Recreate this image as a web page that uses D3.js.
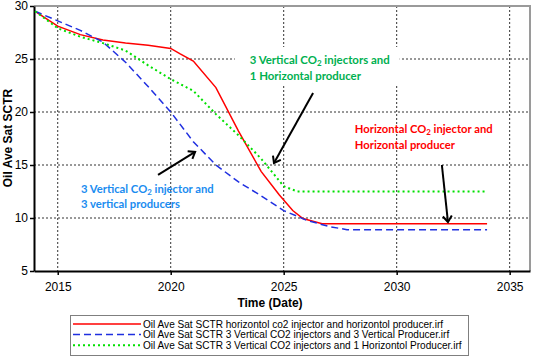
<!DOCTYPE html>
<html>
<head>
<meta charset="utf-8">
<script src="https://cdn.jsdelivr.net/npm/d3@7"></script>
<style>
  body { margin: 0; background: #fff; }
  svg { display: block; font-family: "Liberation Sans", Arial, sans-serif; }
</style>
</head>
<body>
<div id="chart"></div>
<script>
// horizontal injector + horizontal producer (red, solid)
const horizYears = [2014, 2015, 2016, 2017, 2018, 2019, 2020, 2020.4, 2021, 2022, 2023, 2024, 2024.8, 2025.4, 2025.85, 2026.7, 2034];
const horizSat   = [29.5, 28.1, 27.3, 26.8, 26.5, 26.3, 26.0, 25.5, 24.8, 22.3, 18.2, 14.4, 12.2, 10.7, 9.95, 9.45, 9.45];

// 3 vertical injectors + 3 vertical producers (blue, dashed)
const vertYears = [2014, 2015, 2016, 2017, 2018, 2019, 2020, 2021, 2022, 2023, 2024, 2025, 2026, 2027, 2027.8, 2034];
const vertSat   = [29.5, 28.6, 27.7, 26.6, 24.7, 22.4, 20.0, 17.2, 15.0, 13.4, 12.1, 10.7, 9.8, 9.2, 8.9, 8.9];

// 3 vertical injectors + 1 horizontal producer (green, dotted)
const mixYears = [2014, 2015, 2016, 2017, 2018, 2019, 2020, 2021, 2022, 2023, 2024, 2024.5, 2025, 2025.6, 2034];
const mixSat   = [29.5, 27.9, 27.1, 26.5, 25.8, 24.4, 23.1, 22.0, 19.8, 17.8, 15.6, 14.3, 13.0, 12.5, 12.5];

const xTicks = [2015, 2020, 2025, 2030, 2035];
const yTicks = [5, 10, 15, 20, 25, 30];

const legendLabels = [
  "Oil Ave Sat SCTR horizontol co2 injector and horizontol producer.irf",
  "Oil Ave Sat SCTR 3 Vertical CO2 injectors and 3 Vertical Producer.irf",
  "Oil Ave Sat SCTR 3 Vertical CO2 injectors and 1 Horizontol Producer.irf"
];

const width = 533, height = 357,
  margin = ({ top: 6, right: 3, bottom: 86, left: 34 });

const svg = d3.select("#chart").append("svg")
  .attr("width", width).attr("height", height);

const x = d3.scaleLinear()
  .domain([2013.95, 2035.9])
  .range([margin.left, width - margin.right]);

const y = d3.scaleLinear()
  .domain([5, 30])
  .range([height - margin.bottom, margin.top]);

/* dotted grid */
svg.append("g").selectAll("line")
  .data(xTicks).join("line")
  .attr("x1", d => x(d)).attr("x2", d => x(d))
  .attr("y1", y(30)).attr("y2", y(5))
  .attr("stroke", "#333").attr("stroke-dasharray", "2,2");

svg.append("g").selectAll("line")
  .data(yTicks.filter(d => d > 5 && d < 30)).join("line")
  .attr("x1", x.range()[0]).attr("x2", x.range()[1])
  .attr("y1", d => y(d)).attr("y2", d => y(d))
  .attr("stroke", "#333").attr("stroke-dasharray", "2,2");

/* gray frame top and right */
svg.append("path")
  .attr("d", `M${x.range()[0]},${y(30)}H${x.range()[1]}V${y(5)}`)
  .attr("fill", "none").attr("stroke", "#9a9a9a").attr("stroke-width", 2);

/* axes */
const yAxis = svg.append("g")
  .attr("transform", `translate(${margin.left},0)`)
  .call(d3.axisLeft(y).tickValues(yTicks).tickSize(4).tickSizeOuter(0).tickPadding(2));

const xAxis = svg.append("g")
  .attr("transform", `translate(0,${height - margin.bottom})`)
  .call(d3.axisBottom(x).tickValues(xTicks).tickFormat(d3.format("d"))
    .tickSize(4).tickSizeOuter(0).tickPadding(7));

for (const ax of [xAxis, yAxis]) {
  ax.select(".domain").attr("stroke", "#000").attr("stroke-width", 2);
  ax.selectAll(".tick line").attr("stroke", "#000").attr("stroke-width", 1.5);
  ax.selectAll("text").style("font-size", "12px").attr("fill", "#000")
    .style("font-family", "'Liberation Sans', Arial, sans-serif");
}

/* axis titles */
svg.append("text")
  .attr("transform", "rotate(-90)")
  .attr("x", -138).attr("y", 12)
  .attr("text-anchor", "middle")
  .style("font-size", "12px").style("font-weight", "bold")
  .text("Oil Ave Sat SCTR");

svg.append("text")
  .attr("x", 270).attr("y", 307)
  .attr("text-anchor", "middle")
  .style("font-size", "12px").style("font-weight", "bold")
  .text("Time (Date)");

/* series */
const series = [
  { years: horizYears, vals: horizSat, color: "#ff0000", dash: null, w: 1.5 },
  { years: vertYears, vals: vertSat, color: "#1f2fe0", dash: "7,4", w: 1.5 },
  { years: mixYears, vals: mixSat, color: "#00e000", dash: "2,3", w: 2 }
];

const line = d3.line().x(d => x(d[0])).y(d => y(d[1]));

/* annotations (data coordinates) */
const annotations = [
  { lines: [["3 Vertical CO", "2", " injectors and"], ["1 Horizontal producer"]],
    color: "#00b050", at: [2023.5, 24.53, 23.02], width: 140, bg: true },
  { lines: [["Horizontal CO", "2", " injector and"], ["Horizontal producer"]],
    color: "#ff0000", at: [2028.15, 18.0, 16.48], width: 138 },
  { lines: [["3 Vertical CO", "2", " injector and"], ["3 vertical producers"]],
    color: "#1a8cf0", at: [2016.03, 12.39, 10.92], width: 133 }
];
const arrows = [
  [2026.3, 21.79, 2024.57, 15.19],
  [2019.44, 14.06, 2021.08, 16.23],
  [2032.0, 15.0, 2032.27, 9.62]
];

const annoG = svg.append("g");
for (const a of annotations) {
  const g = annoG.append("g");
  const texts = a.lines.map((parts, i) => {
    const t = g.append("text")
      .attr("x", x(a.at[0])).attr("y", y(a.at[1 + i]))
      .attr("fill", a.color)
      .style("font-family", "Lato, 'Open Sans', sans-serif")
      .style("font-weight", 700).style("font-size", "13px");
    parts.forEach((p, j) => {
      if (j === 1) t.append("tspan").attr("dy", 2).style("font-size", "0.7em").text(p);
      else if (j === 2) t.append("tspan").attr("dy", -2).text(p);
      else t.append("tspan").text(p);
    });
    return t;
  });
  const w = texts[0].node().getComputedTextLength();
  const fs = 13 * a.width / w;
  texts.forEach(t => t.style("font-size", fs + "px"));
  if (a.bg) {
    const b = g.node().getBBox();
    g.insert("rect", "text")
      .attr("x", b.x - 15).attr("y", b.y - 6)
      .attr("width", b.width + 25).attr("height", b.height + 10)
      .attr("fill", "#fff");
  }
}

svg.append("defs").append("marker")
  .attr("id", "head").attr("viewBox", "-8 -6 10 12")
  .attr("markerWidth", 10).attr("markerHeight", 12)
  .attr("markerUnits", "userSpaceOnUse")
  .attr("orient", "auto")
  .append("path").attr("d", "M-6,-4.5L0,0L-6,4.5")
  .attr("fill", "none").attr("stroke", "#000").attr("stroke-width", 2);

svg.append("g").selectAll("path")
  .data(series).join("path")
  .attr("d", s => line(s.years.map((yr, i) => [yr, s.vals[i]])))
  .attr("fill", "none")
  .attr("stroke", s => s.color)
  .attr("stroke-width", s => s.w)
  .attr("stroke-dasharray", s => s.dash);

svg.append("g").selectAll("line")
  .data(arrows).join("line")
  .attr("x1", d => x(d[0])).attr("y1", d => y(d[1]))
  .attr("x2", d => x(d[2])).attr("y2", d => y(d[3]))
  .attr("stroke", "#000").attr("stroke-width", 2)
  .attr("marker-end", "url(#head)");

/* legend */
const legend = svg.append("g");
legend.append("rect")
  .attr("x", 70.5).attr("y", 315.5).attr("width", 398).attr("height", 40)
  .attr("fill", "#fff").attr("stroke", "#7f7f7f");

const rows = legend.selectAll(".row")
  .data(series).join("g").attr("class", "row")
  .attr("transform", (d, i) => `translate(0,${324 + i * 10.6})`);

rows.append("line")
  .attr("x1", 73).attr("x2", 141)
  .attr("stroke", s => s.color)
  .attr("stroke-width", s => s.w)
  .attr("stroke-dasharray", s => s.dash);

const legendText = rows.append("text")
  .attr("x", 143).attr("dy", "0.35em")
  .style("font-size", "10px")
  .text((d, i) => legendLabels[i]);

const longest = d3.max(legendText.nodes(), n => n.getComputedTextLength());
legendText.style("font-size", (10 * 319 / longest) + "px");
</script>
</body>
</html>
